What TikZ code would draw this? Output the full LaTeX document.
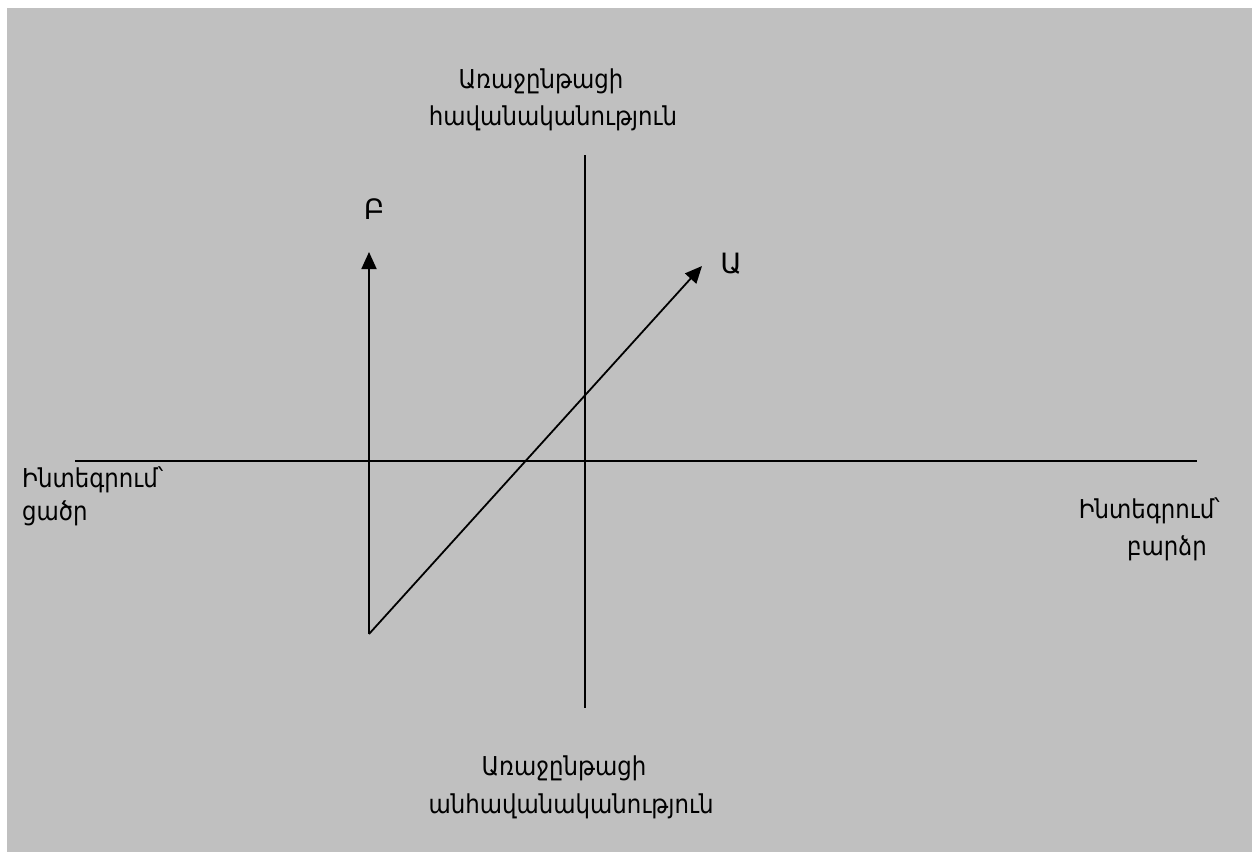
\documentclass[tikz,border=0pt]{standalone}
\usepackage{fontspec}
\setmainfont{DejaVu Sans}
\newfontfamily\armfont[FakeStretch=0.88]{DejaVu Sans}
\usetikzlibrary{arrows.meta}
\definecolor{bggray}{RGB}{192,192,192}
\tikzset{
  axis/.style={line width=1.8pt, black},
  vec/.style={line width=1.8pt, black, -{Triangle[length=17pt,width=15pt]}},
  lbl/.style={inner sep=0pt, font=\armfont\fontsize{26}{31}\selectfont},
  letterlbl/.style={inner sep=0pt, font=\fontsize{28}{33}\selectfont},
}
\begin{document}
\begin{tikzpicture}[x=1pt,y=-1pt]
\useasboundingbox (0,0) rectangle (1252,852);
\fill[white] (0,0) rectangle (1252,852);
\fill[bggray] (7,8) rectangle (1252,852);
% axes
\coordinate (hL) at (75,461);
\coordinate (hR) at (1197,461);
\coordinate (vT) at (585,155);
\coordinate (vB) at (585,708);
\draw[axis] (hL) -- (hR);
\draw[axis] (vT) -- (vB);
% vectors
\coordinate (O) at (369,634);
\coordinate (Btip) at (369,252);
\coordinate (Atip) at (702,266);
\draw[vec] (O) -- (Btip);
\draw[vec] (O) -- (Atip);
% labels
\node[letterlbl, anchor=base] (Blbl) at (374,219) {Բ};
\node[letterlbl, anchor=base] (Albl) at (731,273) {Ա};
\node[lbl, anchor=base] (top1) at (541,88) {Առաջընթացի};
\node[lbl, anchor=base] (top2) at (553,125) {հավանականություն};
\node[lbl, anchor=base] (bot1) at (564,775) {Առաջընթացի};
\node[lbl, anchor=base] (bot2) at (571,813) {անհավանականություն};
\node[lbl, anchor=base west] (left1) at (22,487) {Ինտեգրում՝};
\node[lbl, anchor=base west] (left2) at (22,520) {ցածր};
\node[lbl, anchor=base east] (right1) at (1220,518) {Ինտեգրում՝};
\node[lbl, anchor=base east] (right2) at (1207,555) {բարձր};
\end{tikzpicture}
\end{document}
